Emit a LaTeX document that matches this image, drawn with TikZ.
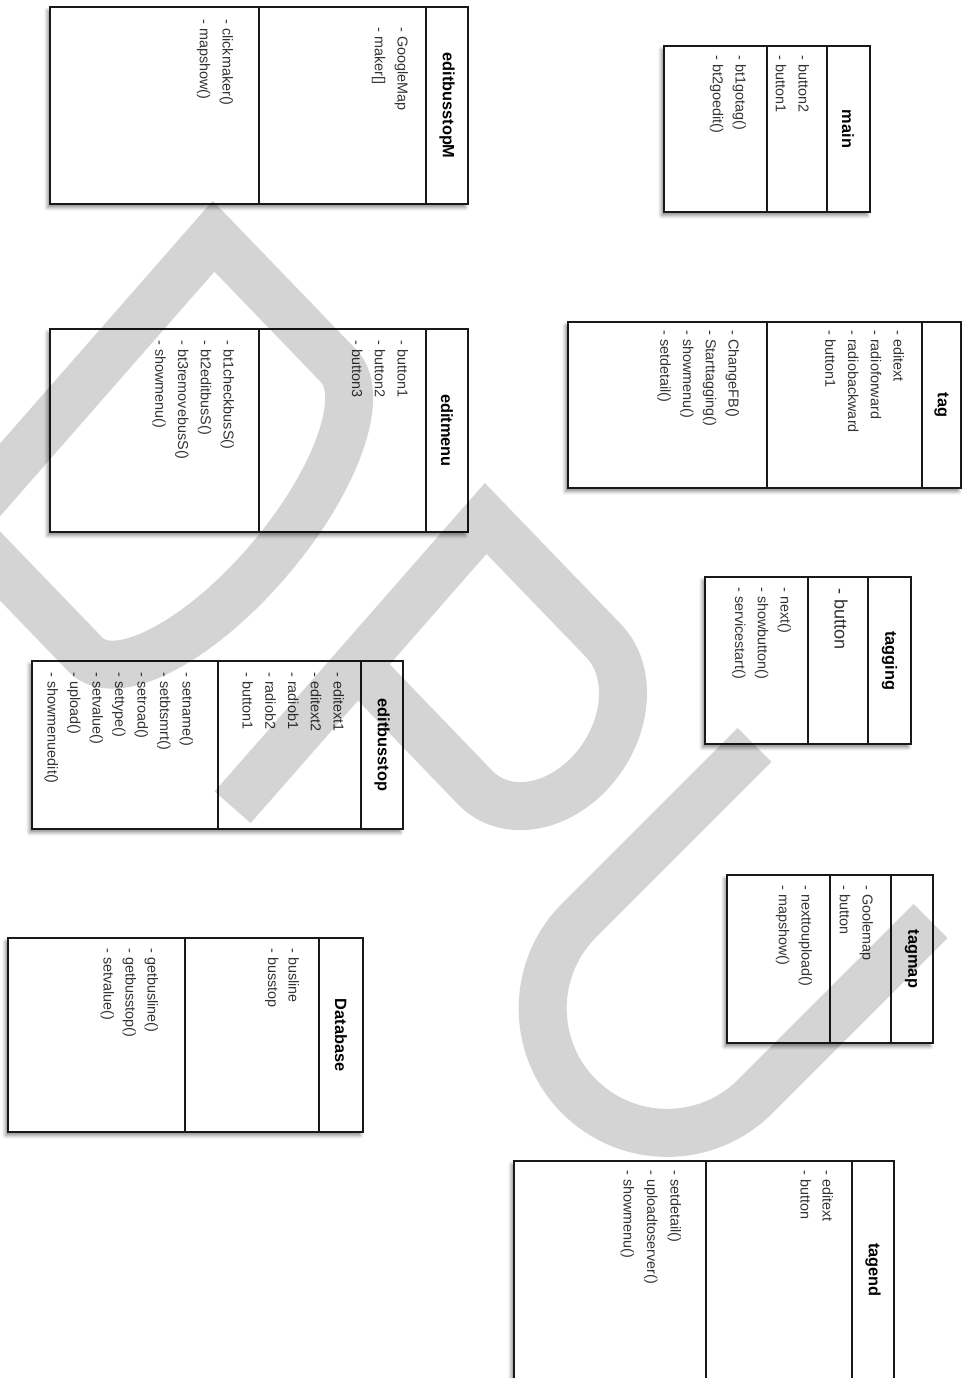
\documentclass[tikz,border=0pt]{standalone}
\usepackage{fontspec}
\setmainfont{Liberation Sans}
\usepackage{tikz}
\usetikzlibrary{shadows.blur}

\begin{document}
\begin{tikzpicture}[x=0.02cm, y=-0.02cm,
  classbox/.style={draw=black!90, line width=0.75pt, fill=white,
    blur shadow={shadow xshift=-1.5pt, shadow yshift=-2pt, shadow blur radius=2pt, shadow opacity=45}},
  divider/.style={draw=black!90, line width=0.75pt},
  title/.style={rotate=-90, inner sep=0pt, font=\bfseries\fontsize{9.3}{11}\selectfont},
  attr/.style={rotate=-90, anchor=base west, inner sep=0pt, text=black!80, font=\fontsize{8.2}{10}\selectfont},
  wmark/.style={draw=black, draw opacity=0.17, line width=0.96cm, line join=miter}]

\useasboundingbox (0,0) rectangle (966,1378);
\clip (0,0) rectangle (966,1378);

% editbusstopM
\draw[classbox] (50,7) rectangle (468,204);
\draw[divider] (259,7) -- (259,204) (426,7) -- (426,204);
\node[title] (bsmT) at (447,105.5) {editbusstopM};
\foreach \t [count=\i from 0] in {- GoogleMap, {- maker[]}}
   \node[attr] (bsmA\i) at ({397.5-22.7*\i}, 27) {\t};
\foreach \t [count=\i from 0] in {- clickmaker(), - mapshow()}
   \node[attr] (bsmM\i) at ({222.5-22.7*\i}, 19) {\t};

% main
\draw[classbox] (664,46) rectangle (870,212);
\draw[divider] (767,46) -- (767,212) (827,46) -- (827,212);
\node[title] (mainT) at (848,129) {main};
\foreach \t [count=\i from 0] in {- button2, - button1}
   \node[attr] (mainA\i) at ({798.5-22.7*\i}, 55) {\t};
\foreach \t [count=\i from 0] in {- bt1gotag(), - bt2goedit()}
   \node[attr] (mainM\i) at ({735.5-22.7*\i}, 55) {\t};

% editmenu
\draw[classbox] (50,329) rectangle (468,532);
\draw[divider] (259,329) -- (259,532) (426,329) -- (426,532);
\node[title] (emT) at (447,430.5) {editmenu};
\foreach \t [count=\i from 0] in {- button1, - button2, - button3}
   \node[attr] (emA\i) at ({397.5-22.7*\i}, 340) {\t};
\foreach \t [count=\i from 0] in {- bt1checkbusS(), - bt2editbusS(), - bt3removebusS(), - showmenu()}
   \node[attr] (emM\i) at ({223.5-22.7*\i}, 340) {\t};

% tag
\draw[classbox] (568,322) rectangle (961,488);
\draw[divider] (767,322) -- (767,488) (922,322) -- (922,488);
\node[title] (tagT) at (941.5,405) {tag};
\foreach \t [count=\i from 0] in {- editext, - radioforward, - radiobackward, - button1}
   \node[attr] (tagA\i) at ({893.5-22.7*\i}, 330) {\t};
\foreach \t [count=\i from 0] in {- ChangeFB(), - Starttagging(), - showmenu(), - setdetail()}
   \node[attr] (tagM\i) at ({728.5-22.7*\i}, 330) {\t};

% editbusstop
\draw[classbox] (32,661) rectangle (403,829);
\draw[divider] (218,661) -- (218,829) (361,661) -- (361,829);
\node[title] (ebsT) at (382,745) {editbusstop};
\foreach \t [count=\i from 0] in {- editext1, - editext2, - radiob1, - radiob2, - button1}
   \node[attr] (ebsA\i) at ({333.5-22.7*\i}, 672) {\t};
\foreach \t [count=\i from 0] in {- setname(), - setbtsmrt(), - setroad(), - settype(), - setvalue(), - upload(), - showmenuedit()}
   \node[attr] (ebsM\i) at ({182.5-22.5*\i}, 672) {\t};

% tagging
\draw[classbox] (705,577) rectangle (911,744);
\draw[divider] (808,577) -- (808,744) (868,577) -- (868,744);
\node[title] (tgT) at (889.5,660.5) {tagging};
\node[attr, font=\fontsize{10.3}{12}\selectfont] (tgA0) at (834.5,588) {- button};
\foreach \t [count=\i from 0] in {- next(), - showbutton(), - servicestart()}
   \node[attr] (tgM\i) at ({780.5-22.7*\i}, 587) {\t};

% Database
\draw[classbox] (8,938) rectangle (363,1132);
\draw[divider] (185,938) -- (185,1132) (319,938) -- (319,1132);
\node[title] (dbT) at (341,1035) {Database};
\foreach \t [count=\i from 0] in {- busline, - busstop}
   \node[attr] (dbA\i) at ({288.5-20.5*\i}, 948) {\t};
\foreach \t [count=\i from 0] in {- getbusline(), - getbusstop(), - setvalue()}
   \node[attr] (dbM\i) at ({147.5-22*\i}, 948) {\t};

% tagmap
\draw[classbox] (727,875) rectangle (933,1043);
\draw[divider] (830,875) -- (830,1043) (891,875) -- (891,1043);
\node[title] (tmT) at (912,959) {tagmap};
\foreach \t [count=\i from 0] in {- Goolemap, - button}
   \node[attr] (tmA\i) at ({862.5-22.7*\i}, 885) {\t};
\foreach \t [count=\i from 0] in {- nexttoupload(), - mapshow()}
   \node[attr] (tmM\i) at ({801.5-22.7*\i}, 885) {\t};

% tagend (runs off the page)
\draw[classbox] (514,1161) rectangle (894,1385);
\draw[divider] (706,1161) -- (706,1385) (852,1161) -- (852,1385);
\node[title] (teT) at (873,1270) {tagend};
\foreach \t [count=\i from 0] in {- editext, - button}
   \node[attr] (teA\i) at ({822.5-22*\i}, 1170) {\t};
\foreach \t [count=\i from 0] in {- setdetail(), - uploadtoserver(), - showmenu()}
   \node[attr] (teM\i) at ({670.5-23.5*\i}, 1170) {\t};

% watermark D and P
\begin{scope}[shift={(-39.5,525)}, x={(0.01388cm,-0.0144cm)}, y={(0.01318cm,0.01504cm)}]
  \draw[wmark] (0,0) -- (0,384) -- (180,384)
     arc[start angle=90, end angle=-90, x radius=76, y radius=192] -- cycle;
  \draw[wmark] (392,0) -- (392,384) -- (562,384)
     arc[start angle=90, end angle=-90, x radius=77, y radius=97.5] -- (392,189);
\end{scope}
% watermark U
\begin{scope}[shift={(754.5,745)}, x={(0.014142cm,-0.014142cm)}, y={(0.014142cm,0.014142cm)}]
  \draw[wmark] (0,0) -- (0,-248) arc[start angle=180, end angle=360, radius=124.5] -- (249,0);
\end{scope}
\end{tikzpicture}
\end{document}
